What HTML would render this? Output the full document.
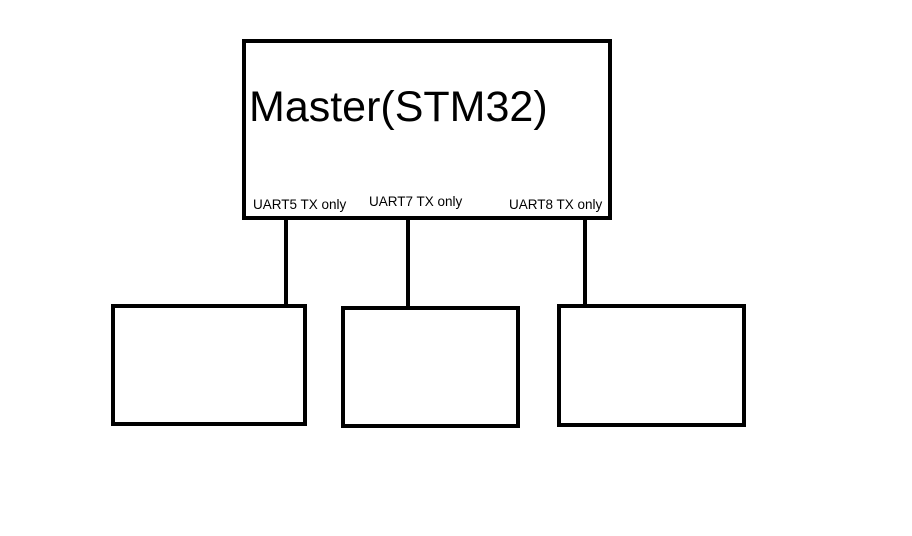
<!DOCTYPE html>
<html><head><style>
body{margin:0;width:912px;height:536px;background:#fff;position:relative;overflow:hidden;font-family:"Liberation Sans",sans-serif}
.b{position:absolute;border:4px solid #000;box-sizing:border-box}
.l{position:absolute;width:4px;background:#000}
.t{position:absolute;font-size:13.5px;white-space:nowrap;color:#000}
</style></head><body>
<div class="b" style="left:242px;top:39px;width:370px;height:181px"></div>
<div class="t" style="left:249px;top:83px;font-size:43px;letter-spacing:0px">Master(STM32)</div>
<div class="t" style="left:253px;top:197px">UART5 TX only</div>
<div class="t" style="left:369px;top:194px">UART7 TX only</div>
<div class="t" style="left:509px;top:197px">UART8 TX only</div>
<div class="l" style="left:284px;top:218px;height:88px"></div>
<div class="l" style="left:406px;top:218px;height:92px"></div>
<div class="l" style="left:583px;top:218px;height:90px"></div>
<div class="b" style="left:111px;top:304px;width:196px;height:122px"></div>
<div class="b" style="left:341px;top:306px;width:179px;height:122px"></div>
<div class="b" style="left:557px;top:304px;width:189px;height:123px"></div>
</body></html>
